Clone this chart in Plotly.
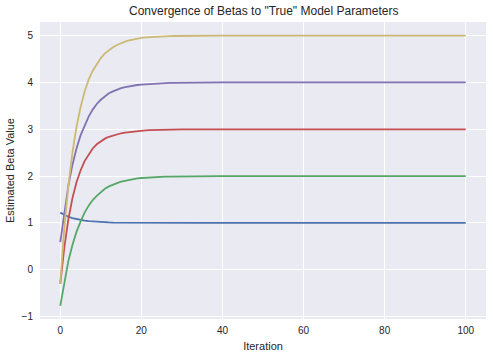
import plotly.graph_objects as go

iterations = list(range(101))

beta0_blue = [
    1.22, 1.171, 1.133, 1.104, 1.081, 1.063, 1.049, 1.038, 1.030, 1.023,
    1.018, 1.014, 1.011, 1.008, 1.007, 1.005, 1.004, 1.003, 1.002, 1.002,
    1.001, 1.001, 1.0, 1.0, 1.0, 1.0, 1.0, 1.0, 1.0, 1.0,
    1.0, 1.0, 1.0, 1.0, 1.0, 1.0,
    1.0, 1.0, 1.0, 1.0, 1.0, 1.0, 1.0, 1.0, 1.0, 1.0, 1.0, 1.0, 1.0,
    1.0, 1.0, 1.0, 1.0, 1.0, 1.0, 1.0, 1.0, 1.0, 1.0, 1.0, 1.0, 1.0,
    1.0, 1.0, 1.0, 1.0, 1.0, 1.0, 1.0, 1.0, 1.0, 1.0, 1.0, 1.0, 1.0,
    1.0, 1.0, 1.0, 1.0, 1.0, 1.0, 1.0, 1.0, 1.0, 1.0, 1.0, 1.0, 1.0,
    1.0, 1.0, 1.0, 1.0, 1.0, 1.0, 1.0, 1.0, 1.0, 1.0, 1.0, 1.0, 1.0,
]

beta1_green = [
    -0.77, -0.24, 0.19, 0.53, 0.81, 1.03, 1.22, 1.37, 1.49, 1.58,
    1.66, 1.73, 1.78, 1.82, 1.85, 1.88, 1.90, 1.92, 1.94, 1.95,
    1.96, 1.967, 1.973, 1.978, 1.982, 1.986, 1.989, 1.991, 1.993, 1.994,
    1.995, 1.996, 1.997, 1.998, 1.998, 1.999,
    2.0, 2.0, 2.0, 2.0, 2.0, 2.0, 2.0, 2.0, 2.0, 2.0, 2.0, 2.0, 2.0,
    2.0, 2.0, 2.0, 2.0, 2.0, 2.0, 2.0, 2.0, 2.0, 2.0, 2.0, 2.0, 2.0,
    2.0, 2.0, 2.0, 2.0, 2.0, 2.0, 2.0, 2.0, 2.0, 2.0, 2.0, 2.0, 2.0,
    2.0, 2.0, 2.0, 2.0, 2.0, 2.0, 2.0, 2.0, 2.0, 2.0, 2.0, 2.0, 2.0,
    2.0, 2.0, 2.0, 2.0, 2.0, 2.0, 2.0, 2.0, 2.0, 2.0, 2.0, 2.0, 2.0,
]

beta2_red = [
    -0.30, 0.48, 1.08, 1.53, 1.87, 2.12, 2.32, 2.47, 2.59, 2.68,
    2.75, 2.80, 2.84, 2.87, 2.895, 2.915, 2.93, 2.942, 2.953, 2.962,
    2.97, 2.976, 2.981, 2.985, 2.988, 2.991, 2.993, 2.995, 2.996, 2.997,
    2.998, 2.998, 2.999, 2.999, 2.999, 3.0,
    3.0, 3.0, 3.0, 3.0, 3.0, 3.0, 3.0, 3.0, 3.0, 3.0, 3.0, 3.0, 3.0,
    3.0, 3.0, 3.0, 3.0, 3.0, 3.0, 3.0, 3.0, 3.0, 3.0, 3.0, 3.0, 3.0,
    3.0, 3.0, 3.0, 3.0, 3.0, 3.0, 3.0, 3.0, 3.0, 3.0, 3.0, 3.0, 3.0,
    3.0, 3.0, 3.0, 3.0, 3.0, 3.0, 3.0, 3.0, 3.0, 3.0, 3.0, 3.0, 3.0,
    3.0, 3.0, 3.0, 3.0, 3.0, 3.0, 3.0, 3.0, 3.0, 3.0, 3.0, 3.0, 3.0,
]

beta3_purple = [
    0.59, 1.25, 1.80, 2.24, 2.59, 2.87, 3.09, 3.27, 3.42, 3.54,
    3.63, 3.71, 3.77, 3.81, 3.85, 3.88, 3.90, 3.92, 3.935, 3.945,
    3.953, 3.96, 3.967, 3.973, 3.978, 3.982, 3.986, 3.989, 3.991, 3.993,
    3.995, 3.996, 3.997, 3.998, 3.998, 3.999,
    4.0, 4.0, 4.0, 4.0, 4.0, 4.0, 4.0, 4.0, 4.0, 4.0, 4.0, 4.0, 4.0,
    4.0, 4.0, 4.0, 4.0, 4.0, 4.0, 4.0, 4.0, 4.0, 4.0, 4.0, 4.0, 4.0,
    4.0, 4.0, 4.0, 4.0, 4.0, 4.0, 4.0, 4.0, 4.0, 4.0, 4.0, 4.0, 4.0,
    4.0, 4.0, 4.0, 4.0, 4.0, 4.0, 4.0, 4.0, 4.0, 4.0, 4.0, 4.0, 4.0,
    4.0, 4.0, 4.0, 4.0, 4.0, 4.0, 4.0, 4.0, 4.0, 4.0, 4.0, 4.0, 4.0,
]

beta4_yellow = [
    -0.30, 0.90, 1.80, 2.50, 3.05, 3.47, 3.80, 4.06, 4.25, 4.40,
    4.52, 4.62, 4.69, 4.75, 4.80, 4.84, 4.87, 4.90, 4.92, 4.935,
    4.95, 4.96, 4.967, 4.973, 4.978, 4.982, 4.986, 4.989, 4.991, 4.993,
    4.995, 4.996, 4.997, 4.998, 4.998, 4.999,
    5.0, 5.0, 5.0, 5.0, 5.0, 5.0, 5.0, 5.0, 5.0, 5.0, 5.0, 5.0, 5.0,
    5.0, 5.0, 5.0, 5.0, 5.0, 5.0, 5.0, 5.0, 5.0, 5.0, 5.0, 5.0, 5.0,
    5.0, 5.0, 5.0, 5.0, 5.0, 5.0, 5.0, 5.0, 5.0, 5.0, 5.0, 5.0, 5.0,
    5.0, 5.0, 5.0, 5.0, 5.0, 5.0, 5.0, 5.0, 5.0, 5.0, 5.0, 5.0, 5.0,
    5.0, 5.0, 5.0, 5.0, 5.0, 5.0, 5.0, 5.0, 5.0, 5.0, 5.0, 5.0, 5.0,
]

series = [beta0_blue, beta1_green, beta2_red, beta3_purple, beta4_yellow]
colors = ["#4C72B0", "#55A868", "#C44E52", "#8172B2", "#CCB974"]
names = ["beta 0", "beta 1", "beta 2", "beta 3", "beta 4"]

x_ticks = [0, 20, 40, 60, 80, 100]
y_ticks = [-1, 0, 1, 2, 3, 4, 5]

FONT = "Liberation Sans, Arial, sans-serif"
TXT = "#262626"

fig = go.Figure()
for vals, c, n in zip(series, colors, names):
    fig.add_trace(go.Scatter(x=iterations, y=vals, mode="lines", name=n,
                             line=dict(color=c, width=1.8)))

fig.update_layout(
    width=493, height=359,
    paper_bgcolor="white", plot_bgcolor="#EAEAF2",
    margin=dict(l=40, r=7, t=22, b=40, autoexpand=False),
    showlegend=False,
    font=dict(family=FONT, color=TXT),
    title=dict(text='Convergence of Betas to "True" Model Parameters',
               x=0.535, xanchor="center", y=0.969, yanchor="middle",
               yref="container", automargin=False, font=dict(size=12, color=TXT)),
)
fig.update_xaxes(range=[-5, 105], tickvals=x_ticks, showgrid=True, automargin=False,
                 gridcolor="white", gridwidth=1, zeroline=False, showline=False,
                 ticks="", tickfont=dict(size=10, color=TXT), ticklabelstandoff=4,
                 title=dict(text="Iteration", font=dict(size=11, color=TXT), standoff=7))
fig.update_yaxes(range=[-1.05, 5.29], tickvals=y_ticks, showgrid=True, automargin=False,
                 gridcolor="white", gridwidth=1, zeroline=False, showline=False,
                 ticks="", tickfont=dict(size=10, color=TXT), ticklabelstandoff=6,
                 title=dict(text="Estimated Beta Value", font=dict(size=11, color=TXT), standoff=4))

fig.write_html("out.html", config={"displayModeBar": False},
               post_script="document.body.style.margin='0';document.body.style.overflow='hidden';")
